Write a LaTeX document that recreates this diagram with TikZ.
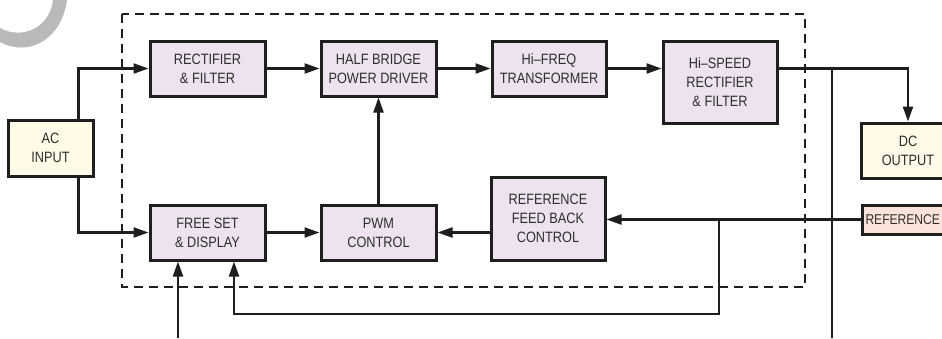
\documentclass[tikz,border=0pt]{standalone}
\usepackage{fontspec}
\setmainfont{Liberation Sans}[FakeStretch=0.85]
\usetikzlibrary{arrows.meta}
\definecolor{boxfill}{HTML}{ECE3EF}
\definecolor{acfill}{HTML}{FFFBE6}
\definecolor{reffill}{HTML}{FCE3DA}
\definecolor{txt}{HTML}{2E2E2E}
\definecolor{ln}{HTML}{1E1E1E}
\begin{document}
\begin{tikzpicture}[x=1pt,y=-1pt,
  blk/.style={draw=ln, line width=3pt, fill=boxfill, align=center, inner sep=0pt,
    text=txt, font=\fontsize{15}{19}\selectfont},
  io/.style={blk, fill=acfill},
  refb/.style={blk, fill=reffill},
  arr/.style={draw=ln, line width=2.2pt, -{Triangle[length=15pt,width=10pt]}},
  wire/.style={draw=ln, line width=2.2pt},
  frame/.style={draw=ln, line width=2pt, dash pattern=on 9pt off 6pt}]
\path[use as bounding box, clip] (0,0) rectangle (942,338);
\fill[white] (0,0) rectangle (942,338);
% grey watermark crescent
\fill[gray!55] (0,42) .. controls (30,58) and (62,38) .. (67,0) -- (53,0)
  .. controls (50,28) and (22,40) .. (0,28) -- cycle;
% dashed enclosure
\draw[frame] (122,14) rectangle (805,287);
% blocks
\node[blk, minimum width=115pt, minimum height=55pt] (rect) at (207.5,68.5) {RECTIFIER\\\& FILTER};
\node[blk, minimum width=115pt, minimum height=55pt] (hb) at (378.5,68.5) {HALF BRIDGE\\POWER DRIVER};
\node[blk, minimum width=114pt, minimum height=55pt] (hf) at (549,68.5) {Hi--FREQ\\TRANSFORMER};
\node[blk, minimum width=114pt, minimum height=82pt] (hs) at (720,82) {Hi--SPEED\\RECTIFIER\\\& FILTER};
\node[io, minimum width=85pt, minimum height=56pt] (ac) at (50.5,148) {AC\\INPUT};
\node[io, minimum width=94pt, minimum height=55pt] (dc) at (908,150.5) {DC\\OUTPUT};
\node[refb, anchor=west, minimum height=29pt, text width=76pt, align=left,
  inner xsep=3pt, font=\fontsize{14.2}{19}\selectfont] (ref) at (861,219.5) {REFERENCE};
\node[blk, minimum width=115pt, minimum height=55pt] (fs) at (207.5,232.5) {FREE SET\\\& DISPLAY};
\node[blk, minimum width=115pt, minimum height=55pt] (pwm) at (378.5,232.5) {PWM\\CONTROL};
\node[blk, minimum width=114pt, minimum height=83pt] (rfb) at (548,218.5) {REFERENCE\\FEED BACK\\CONTROL};
% helper coordinates
\coordinate (acT) at ([xshift=-16pt]ac.north east);
\coordinate (acB) at ([xshift=-16pt]ac.south east);
\coordinate (outT) at (832,68.5);
\coordinate (outB) at (832,338);
\coordinate (brT) at (719,219.5);
\coordinate (brB) at (719,314);
\coordinate (fsR) at ([xshift=26.5pt]fs.south);
\coordinate (fsL) at ([xshift=-29.5pt]fs.south);
\coordinate (extIn) at (178,338);
% connectors
\draw[arr] (acT) |- (rect.west);
\draw[arr] (acB) |- (fs.west);
\draw[arr] (rect) -- (hb);
\draw[arr] (hb) -- (hf);
\draw[arr] (hf.east) -- (hf.east -| hs.west);
\draw[arr] (hs.east |- hf.east) -| (dc.north);
\draw[wire] (outT) -- (outB);
\draw[arr] (pwm) -- (hb);
\draw[arr] (fs) -- (pwm);
\draw[arr] (rfb.west |- pwm.east) -- (pwm.east);
\draw[arr] (ref.west) -- (ref.west -| rfb.east);
\draw[arr] (brT) -- (brB) -| (fsR);
\draw[arr] (extIn) -- (fsL);
\end{tikzpicture}
\end{document}
